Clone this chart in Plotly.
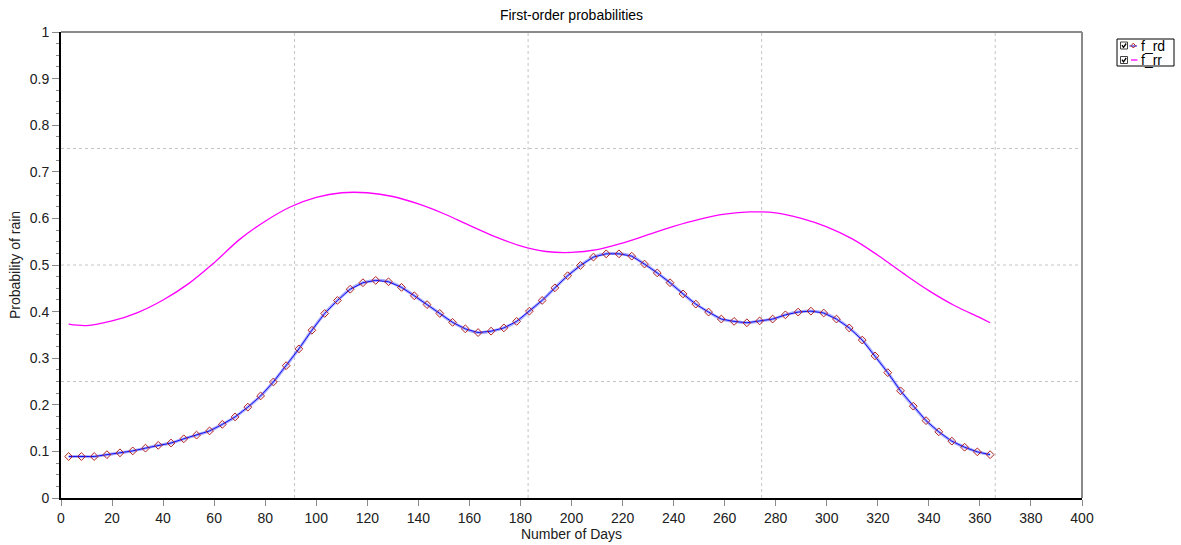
import plotly.graph_objects as go

# Day of year at which each first-order probability was evaluated
days = [
    3.0, 8.0, 13.0, 18.0, 23.1, 28.1, 33.1, 38.1, 43.1, 48.1, 53.1, 58.2, 63.2,
    68.2, 73.2, 78.2, 83.2, 88.2, 93.2, 98.3, 103.3, 108.3, 113.3, 118.3, 123.3,
    128.3, 133.4, 138.4, 143.4, 148.4, 153.4, 158.4, 163.4, 168.5, 173.5, 178.5,
    183.5, 188.5, 193.5, 198.5, 203.5, 208.6, 213.6, 218.6, 223.6, 228.6, 233.6,
    238.6, 243.7, 248.7, 253.7, 258.7, 263.7, 268.7, 273.7, 278.8, 283.8, 288.8,
    293.8, 298.8, 303.8, 308.8, 313.9, 318.9, 323.9, 328.9, 333.9, 338.9, 343.9,
    349.0, 354.0, 359.0, 364.0,
]

# P(rain | previous day dry)
f_rd = [
    0.089, 0.089, 0.089, 0.093, 0.097, 0.101, 0.107, 0.113, 0.118, 0.127, 0.135,
    0.144, 0.158, 0.174, 0.195, 0.219, 0.249, 0.284, 0.320, 0.360, 0.396, 0.424,
    0.448, 0.462, 0.467, 0.464, 0.452, 0.434, 0.415, 0.396, 0.377, 0.363, 0.355,
    0.358, 0.365, 0.379, 0.401, 0.424, 0.451, 0.477, 0.499, 0.517, 0.524, 0.524,
    0.519, 0.502, 0.483, 0.462, 0.438, 0.416, 0.399, 0.384, 0.379, 0.376, 0.380,
    0.384, 0.393, 0.399, 0.401, 0.397, 0.384, 0.365, 0.339, 0.305, 0.269, 0.230,
    0.197, 0.166, 0.142, 0.122, 0.109, 0.099, 0.093,
]

# P(rain | previous day wet), smooth seasonal curve
rr_days = [
    3, 10, 20, 30, 40, 50, 60, 70, 80, 90, 100, 110, 120, 130, 140, 150, 160,
    170, 180, 190, 200, 210, 220, 230, 240, 250, 260, 270, 280, 290, 300, 310,
    320, 330, 340, 350, 360, 364,
]
f_rr = [
    0.373, 0.370, 0.380, 0.398, 0.425, 0.460, 0.505, 0.555, 0.594, 0.625, 0.645,
    0.655, 0.655, 0.647, 0.631, 0.610, 0.585, 0.561, 0.541, 0.529, 0.527, 0.533,
    0.547, 0.565, 0.583, 0.598, 0.609, 0.614, 0.612, 0.600, 0.582, 0.556, 0.521,
    0.482, 0.445, 0.413, 0.387, 0.376,
]

# Quarter-year and quarter-probability reference lines
grid_days = [91.5, 183, 274.5, 366]
grid_probs = [0.25, 0.5, 0.75]

x_ticks = list(range(0, 401, 20))
y_ticks = [0, 0.1, 0.2, 0.3, 0.4, 0.5, 0.6, 0.7, 0.8, 0.9, 1]
y_labels = ["0", "0.1", "0.2", "0.3", "0.4", "0.5", "0.6", "0.7", "0.8", "0.9", "1"]

W, H = 1181, 545
L, R, T, B = 61, 1082, 32, 498
FONT = "Liberation Sans, Arial, sans-serif"


def px(x):
    return (x - L) / (R - L)


def py(y):
    return (B - y) / (B - T)


fig = go.Figure()

fig.add_trace(go.Scatter(
    x=rr_days, y=f_rr, mode="lines", name="f_rr",
    line=dict(color="#ff00ff", width=1.3, shape="spline", smoothing=1.0),
    hoverinfo="x+y",
))
fig.add_trace(go.Scatter(
    x=days, y=f_rd, mode="lines", showlegend=False,
    line=dict(color="rgba(90,90,255,0.5)", width=3, shape="spline"),
    hoverinfo="skip",
))
fig.add_trace(go.Scatter(
    x=days, y=f_rd, mode="lines+markers", name="f_rd",
    line=dict(color="#1010f0", width=1),
    marker=dict(symbol="diamond-open", size=6, color="#b02020",
                line=dict(width=1, color="#b02020")),
))

shapes = []
for d in grid_days:
    shapes.append(dict(type="line", xref="x", yref="paper", x0=d, x1=d, y0=0, y1=1,
                       layer="below", line=dict(color="#c4c4c4", width=1, dash="3px,3px")))
for p in grid_probs:
    shapes.append(dict(type="line", xref="paper", yref="y", x0=0, x1=1, y0=p, y1=p,
                       layer="below", line=dict(color="#c4c4c4", width=1, dash="3px,3px")))

# top and right frame edges
shapes.append(dict(type="line", xref="paper", yref="paper", x0=0, x1=1, y0=1, y1=1,
                   line=dict(color="#8a8a8a", width=2)))
shapes.append(dict(type="line", xref="paper", yref="paper", x0=1, x1=1, y0=0, y1=1,
                   line=dict(color="#8a8a8a", width=2)))

# legend box with check boxes
shapes.append(dict(type="rect", xref="paper", yref="paper",
                   x0=px(1117), x1=px(1174), y0=py(66), y1=py(39),
                   line=dict(color="#000000", width=1), fillcolor="white"))
annotations = []
rows = [(45.5, "f_rd"), (60.0, "f_rr")]
for yc, name in rows:
    bx0, bx1 = 1120.5, 1127.5
    by0, by1 = yc - 3.5, yc + 3.5
    shapes.append(dict(type="rect", xref="paper", yref="paper",
                       x0=px(bx0), x1=px(bx1), y0=py(by1), y1=py(by0),
                       line=dict(color="#404040", width=1), fillcolor="white"))
    path = "M {} {} L {} {} L {} {}".format(
        px(bx0 + 1.5), py(yc - 0.3), px(bx0 + 3.0), py(yc + 1.8),
        px(bx1 - 1.3), py(yc - 2.0))
    shapes.append(dict(type="path", xref="paper", yref="paper", path=path,
                       line=dict(color="#000000", width=1.3)))
    annotations.append(dict(xref="paper", yref="paper", x=px(1138.5), y=py(yc + 0.5),
                            text=name, showarrow=False, xanchor="left", yanchor="middle",
                            font=dict(family=FONT, size=14, color="#000000")))

# legend line samples
shapes.append(dict(type="line", xref="paper", yref="paper", x0=px(1129.5), x1=px(1137),
                   y0=py(46), y1=py(46), line=dict(color="#1010f0", width=1)))
shapes.append(dict(type="path", xref="paper", yref="paper",
                   path="M {} {} L {} {} L {} {} L {} {} Z".format(
                       px(1133.3), py(43.2), px(1135.5), py(45.6),
                       px(1133.3), py(48.0), px(1131.1), py(45.6)),
                   line=dict(color="#b02020", width=1)))
shapes.append(dict(type="line", xref="paper", yref="paper", x0=px(1131), x1=px(1137.5),
                   y0=py(60), y1=py(60), line=dict(color="#ff00ff", width=1.3)))

fig.update_layout(
    width=W, height=H,
    margin=dict(l=L, r=W - R, t=T, b=H - B, pad=0),
    paper_bgcolor="white", plot_bgcolor="white",
    showlegend=False,
    title=dict(text="First-order probabilities", x=0.5, xref="paper", xanchor="center",
               y=1 - 15 / H, yref="container", yanchor="middle",
               font=dict(family=FONT, size=14, color="#000000")),
    font=dict(family=FONT, size=14, color="#202020"),
    shapes=shapes,
    annotations=annotations,
)

fig.update_xaxes(
    range=[0, 400], tickvals=x_ticks, showgrid=False, zeroline=False, automargin=False,
    showline=True, linecolor="#000000", linewidth=2,
    ticks="outside", ticklen=6, tickcolor="#8a8a8a", tickwidth=1,
    tickfont=dict(family=FONT, size=14, color="#202020"),
    title=dict(text="Number of Days", standoff=2,
               font=dict(family=FONT, size=14, color="#202020")),
)
fig.update_yaxes(
    range=[0, 1], tickvals=y_ticks, ticktext=y_labels, showgrid=False, zeroline=False,
    automargin=False,
    showline=True, linecolor="#000000", linewidth=2,
    ticks="outside", ticklen=7, tickcolor="#8a8a8a", tickwidth=1,
    minor=dict(dtick=0.025, ticks="outside", ticklen=3, tickcolor="#8a8a8a", showgrid=False),
    tickfont=dict(family=FONT, size=14, color="#202020"),
    title=dict(text="Probability of rain", standoff=6,
               font=dict(family=FONT, size=14, color="#202020")),
)

fig.write_html("out.html")
